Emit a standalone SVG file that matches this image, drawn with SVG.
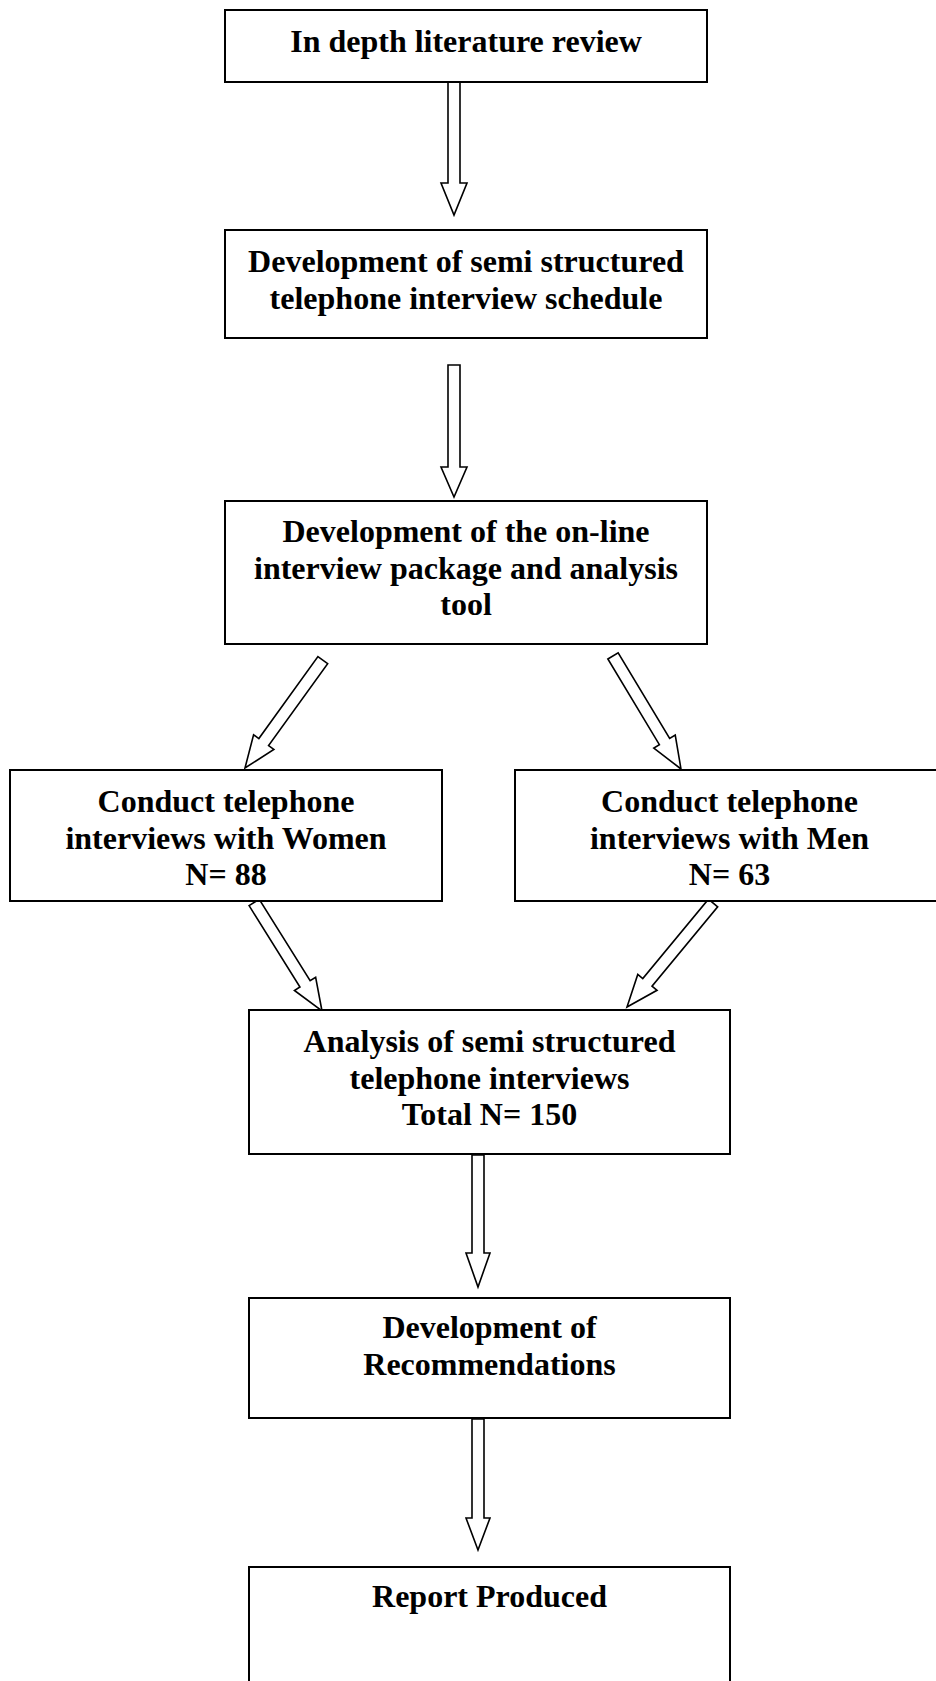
<svg xmlns="http://www.w3.org/2000/svg" width="936" height="1681" viewBox="0 0 936 1681">
<style>
.box{fill:#fff;stroke:#000;stroke-width:2}
.arr{fill:#fff;stroke:#000;stroke-width:1.6;stroke-linejoin:miter}
text{font-family:"Liberation Serif","Times New Roman",serif;font-weight:bold;font-size:32px;fill:#000;text-anchor:middle}
</style>
<rect width="936" height="1681" fill="#fff"/>
<g id="connectors">
<polygon class="arr" points="448,82 460,82 460,183 467,183 454,215 441,183 448,183"/>
<polygon class="arr" points="448,365 460,365 460,467 467,467 454,497 441,467 448,467"/>
<polygon class="arr" points="472,1155 484,1155 484,1253 490,1253 478,1287 466,1253 472,1253"/>
<polygon class="arr" points="472,1419 484,1419 484,1518 490,1518 478,1550 466,1518 472,1518"/>
<g transform="translate(245,768) rotate(35.8)"><polygon class="arr" points="-6,-133 6,-133 6,-32 12.5,-32 0,0 -12.5,-32 -6,-32"/></g>
<g transform="translate(681,769) rotate(-31)"><polygon class="arr" points="-6,-132 6,-132 6,-32 12.5,-32 0,0 -12.5,-32 -6,-32"/></g>
<g transform="translate(322,1011) rotate(-32)"><polygon class="arr" points="-6,-128 6,-128 6,-32 12.5,-32 0,0 -12.5,-32 -6,-32"/></g>
<g transform="translate(627,1007) rotate(39.6)"><polygon class="arr" points="-6,-135 6,-135 6,-32 12.5,-32 0,0 -12.5,-32 -6,-32"/></g>
</g>
<g id="n1"><rect class="box" x="225" y="10" width="482" height="72"/><text x="466" y="52">In depth literature review</text></g>
<g id="n2"><rect class="box" x="225" y="230" width="482" height="108"/><text x="466" y="272">Development of semi structured</text><text x="466" y="308.5">telephone interview schedule</text></g>
<g id="n3"><rect class="box" x="225" y="501" width="482" height="143"/><text x="466" y="542">Development of the on-line</text><text x="466" y="578.5">interview package and analysis</text><text x="466" y="615">tool</text></g>
<g id="n4"><rect class="box" x="10" y="770" width="432" height="131"/><text x="226" y="812">Conduct telephone</text><text x="226" y="848.5">interviews with Women</text><text x="226" y="885">N= 88</text></g>
<g id="n5"><rect class="box" x="515" y="770" width="430" height="131"/><text x="729.5" y="812">Conduct telephone</text><text x="729.5" y="848.5">interviews with Men</text><text x="729.5" y="885">N= 63</text></g>
<g id="n6"><rect class="box" x="249" y="1010" width="481" height="144"/><text x="489.5" y="1052">Analysis of semi structured</text><text x="489.5" y="1088.5">telephone interviews</text><text x="489.5" y="1125">Total N= 150</text></g>
<g id="n7"><rect class="box" x="249" y="1298" width="481" height="120"/><text x="489.5" y="1338">Development of</text><text x="489.5" y="1374.5">Recommendations</text></g>
<g id="n8"><rect class="box" x="249" y="1567" width="481" height="130"/><text x="489.5" y="1607">Report Produced</text></g>
</svg>
